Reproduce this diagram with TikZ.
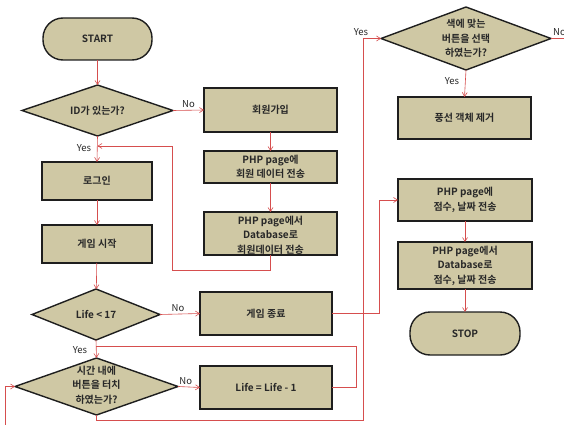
\documentclass[tikz,border=0pt]{standalone}
\usepackage{fontspec}
\setmainfont{Noto Sans CJK KR}
\newfontfamily\kbold{Noto Sans CJK KR Bold}
\usetikzlibrary{shapes.geometric,arrows.meta}
\definecolor{boxfill}{RGB}{207,200,164}
\definecolor{boxline}{RGB}{30,30,30}
\definecolor{conn}{RGB}{214,78,78}
\definecolor{txt}{RGB}{40,40,40}
\tikzset{
  box/.style={draw=boxline,fill=boxfill,line width=1.4pt,inner sep=0pt,outer sep=0pt,
    align=center,font=\kbold\fontsize{10}{14.5}\selectfont,text=txt},
  term/.style={box,rounded corners=20pt},
  dia/.style={draw=boxline,fill=boxfill,line width=1.4pt,diamond,inner sep=0pt,outer sep=0pt},
  diatext/.style={align=center,font=\kbold\fontsize{10}{14.5}\selectfont,text=txt,inner sep=0pt},
  lbl/.style={font=\fontsize{9.5}{11}\selectfont,text=txt,inner sep=0pt},
  arr/.style={draw=conn,line width=0.6pt,-{Straight Barb[length=4pt,width=5pt]}},
  ln/.style={draw=conn,line width=0.6pt},
}
\begin{document}
\begin{tikzpicture}[x=1pt,y=-1pt]
\clip (0,0) rectangle (564,425);
\fill[white] (0,0) rectangle (564,425);
% left column
\node[term,minimum width=109,minimum height=42] (start) at (97.5,39) {START};
\node[dia,minimum width=151,minimum height=51] (d1) at (97.5,110.5) {};
\node[diatext] (d1t) at (d1) {ID가 있는가?};
\node[box,minimum width=110,minimum height=38] (login) at (97,181) {로그인};
\node[box,minimum width=110,minimum height=38] (gstart) at (97,244) {게임 시작};
\node[dia,minimum width=128,minimum height=51] (d2) at (96,314.5) {};
\node[diatext] (d2t) at (d2) {Life < 17};
\node[dia,minimum width=163,minimum height=57] (d3) at (96.5,386.5) {};
\node[diatext] (d3t) at (96.5,385) {시간 내에\\버튼을 터치\\하였는가?};
% middle column
\node[box,minimum width=133,minimum height=44] (join) at (270.5,110) {회원가입};
\node[box,minimum width=133,minimum height=32] (php1) at (270.5,167) {PHP page에\\회원 데이터 전송};
\node[box,minimum width=133,minimum height=43] (php2) at (270.5,233.5) {};
\node[diatext] (php2t) at (270.5,235) {PHP page에서\\Database로\\회원데이터 전송};
\node[box,minimum width=132,minimum height=43] (gend) at (266,313.5) {게임 종료};
\node[box,minimum width=132,minimum height=43] (life) at (266,387.5) {Life = Life - 1};
% right column
\node[dia,minimum width=170,minimum height=63] (d4) at (466,38.5) {};
\node[diatext] (d4t) at (d4) {색에 맞는\\버튼을 선택\\하였는가?};
\node[box,minimum width=133,minimum height=42] (balloon) at (464.5,118) {풍선 객체 제거};
\node[box,minimum width=134,minimum height=42] (php3) at (465,200) {PHP page에\\점수, 날짜 전송};
\node[box,minimum width=134,minimum height=47] (php4) at (465,265.5) {PHP page에서\\Database로\\점수, 날짜 전송};
\node[term,minimum width=110,minimum height=43] (stop) at (465,333.5) {STOP};
% helper coordinates
\coordinate (j1) at (97.5,146);
\coordinate (j2) at (96,346);
\coordinate (lin) at (5,430);
\coordinate (rout) at (580,38.5);
% connectors
\draw[arr] (start) -- (d1);
\draw[arr] (d1.east) -- (join.west) node[lbl,pos=0.5,above=2pt] (no1) {No};
\draw[arr] (join) -- (php1);
\draw[arr] (php1) -- (php2);
\draw[arr] (php2.south) -- ++(0,15) -| (172,146) -- (j1);
\draw[arr] (d1.south) -- (login.north);
\node[lbl] (yes1) at (84,148) {Yes};
\draw[arr] (login) -- (gstart);
\draw[arr] (gstart) -- (d2);
\draw[arr] (d2.east) -- (gend.west) node[lbl,pos=0.45,above=2pt] (no2) {No};
\draw[arr] (gend.east) -- (379,313.5) |- (php3.west);
\draw[arr] (d2.south) -- (d3.north);
\node[lbl] (yes2) at (80,350) {Yes};
\draw[ln] (life.east) -- (356,387.5) |- (j2);
\draw[arr] (d3.east) -- (life.west) node[lbl,pos=0.35,above=2pt] (no3) {No};
\draw[arr] (d3.south) -- (96.5,420) -| (363,38.5) -- (d4.west);
\node[lbl] (yes3) at (361,32) {Yes};
\draw[arr] (d4.south) -- (balloon.north);
\node[lbl] (yes4) at (452,81) {Yes};
\draw[ln] (d4.east) -- (rout);
\node[lbl,anchor=west] (no4) at (553,32) {No};
\draw[arr] (lin) |- (d3.west);
\draw[arr] (php3) -- (php4);
\draw[arr] (php4) -- (stop);
\end{tikzpicture}
\end{document}
